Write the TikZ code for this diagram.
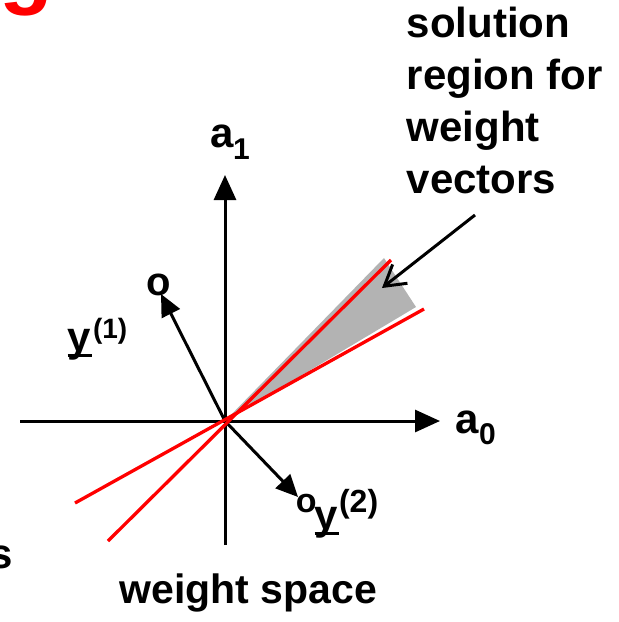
\documentclass[tikz,border=0pt]{standalone}
\usepackage{fontspec}
\setmainfont{Liberation Sans}
\usetikzlibrary{arrows.meta}
\definecolor{regiongray}{RGB}{179,179,179}
\definecolor{linered}{RGB}{255,0,0}
\begin{document}
\begin{tikzpicture}[x=1pt,y=-1pt,
  lbl/.style={inner sep=0pt, anchor=base west, font=\fontsize{42}{50}\selectfont\bfseries},
  axisarrow/.style={line width=3pt, -{Triangle[length=25pt,width=22pt]}},
  vecarrow/.style={line width=3pt, -{Triangle[length=22pt,width=20pt]}},
  redline/.style={linered, line width=3.3pt},
  pointer/.style={line width=3pt, -{Straight Barb[length=20pt,width=24pt]}}]
\useasboundingbox (0,0) rectangle (619,622);
% coordinates
\coordinate (O) at (225,421);
\coordinate (W) at (20,421);
\coordinate (E) at (440,421);
\coordinate (S) at (225,545);
\coordinate (N) at (225,175);
\coordinate (Y1) at (161,294);
\coordinate (Y2) at (298,497);
\coordinate (R1a) at (108,541);
\coordinate (R1b) at (391,260);
\coordinate (R2a) at (75,503);
\coordinate (R2b) at (424,309);
\coordinate (G1) at (384,258);
\coordinate (G2) at (416,307);
\coordinate (P0) at (475,215);
\coordinate (P1) at (382,288);
% solution region
\fill[regiongray] (O) -- (G1) -- (G2) -- cycle;
% axes
\draw[axisarrow] (W) -- (E);
\draw[axisarrow] (S) -- (N);
% vectors
\draw[vecarrow] (O) -- (Y1);
\draw[vecarrow] (O) -- (Y2);
% red boundary lines
\draw[redline] (R1a) -- (R1b);
\draw[redline] (R2a) -- (R2b);
% pointer
\draw[pointer] (P0) -- (P1);
% texts
\node[inner sep=0pt, anchor=base west, text=red, font=\fontsize{88}{88}\selectfont\bfseries] (title) at (-1,-3) {g};
\node[lbl] (s) at (-11,568) {s};
\node[lbl] (sol1) at (406.5,37) {solution};
\node[lbl] (sol2) at (406.5,89) {region for};
\node[lbl] (sol3) at (406.5,141) {weight};
\node[lbl] (sol4) at (406.5,193) {vectors};
\node[lbl, font=\fontsize{41}{50}\selectfont\bfseries] (ws) at (119.5,603) {weight space};
\node[lbl] (a1) at (210.5,147) {a\kern-1pt\raisebox{-12pt}{\fontsize{30}{30}\selectfont 1}};
\node[lbl] (a0) at (455.5,433) {a\raisebox{-11pt}{\fontsize{30}{30}\selectfont 0}};
\node[lbl] (o1) at (146.4,295) {\fontsize{40}{40}\selectfont o};
\node[lbl] (o2) at (295.7,512) {\fontsize{34}{34}\selectfont o};
\node[lbl] (y1) at (67.5,351) {\rlap{\rule[-6pt]{24pt}{3pt}}y\kern2pt\raisebox{12.5pt}{\fontsize{28}{28}\selectfont(1)}};
\node[lbl] (y2) at (314.5,529) {\rlap{\rule[-6pt]{24pt}{3pt}}y\kern1pt\raisebox{17pt}{\fontsize{32}{32}\selectfont(2)}};
\end{tikzpicture}
\end{document}
